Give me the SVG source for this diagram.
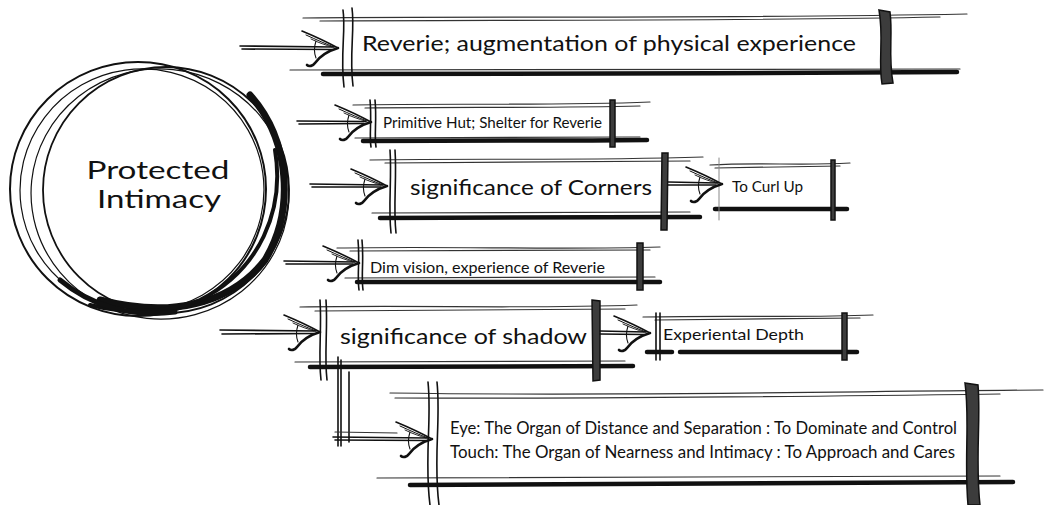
<svg xmlns="http://www.w3.org/2000/svg" width="1045" height="505" viewBox="0 0 1045 505">
<style>
.t1{fill:none;stroke:#333;stroke-width:1.2;stroke-linecap:round}
.t0{fill:none;stroke:#888;stroke-width:1;stroke-linecap:round}
.tk{fill:none;stroke:#111;stroke-width:4.5;stroke-linecap:round}
.vl{fill:none;stroke:#111;stroke-width:1.6;stroke-linecap:round}
.bar{fill:#3c3c3c;stroke:#111;stroke-width:1.5}
.ring{fill:none;stroke:#111;stroke-linecap:round}
.sh{fill:none;stroke:#111;stroke-width:1.6;stroke-linecap:round}
.lbl{font-family:Lato,"Noto Sans","DejaVu Sans",sans-serif;fill:#111}
</style>
<defs>
<g id="ah" fill="none" stroke="#111" stroke-linecap="round">
<path d="M-36,-17 C-24,-12 -11,-6 0,0" stroke-width="1.6"/>
<path d="M-32,-13 C-21,-8 -12,-4 -4,-1" stroke-width="1"/>
<path d="M-27,-9 C-19,-5 -12,-3 -6,-1" stroke-width="0.9"/>
<path d="M0,0 C-10,3 -18,8 -23,15 C-25,18 -29,19 -31,17" stroke-width="2.6"/>
<path d="M-22,-7 C-24,-1 -24,5 -22,10" stroke-width="1.1"/>
</g>
</defs>
<rect width="1045" height="505" fill="#fff"/>

<g id="n-core">
<ellipse class="ring" cx="138" cy="189" rx="128" ry="127" stroke-width="2"/>
<ellipse class="ring" cx="142" cy="190" rx="122" ry="121" stroke-width="1.2" transform="rotate(-8 142 190)"/>
<ellipse class="ring" cx="166" cy="190" rx="123" ry="123" stroke-width="1.8"/>
<ellipse class="ring" cx="160" cy="194" rx="129" ry="125" stroke-width="1.2" transform="rotate(6 160 194)"/>
<path class="ring" d="M250,95 C290,140 295,210 265,260 C230,305 170,318 100,300" stroke-width="7"/>
<path class="ring" d="M275,150 C285,210 260,270 200,300 C170,312 130,315 90,305" stroke-width="4"/>
<path class="ring" d="M60,280 C90,305 130,318 175,312" stroke-width="5"/>
<text class="lbl" x="158" y="179" font-size="25" text-anchor="middle" textLength="143" lengthAdjust="spacingAndGlyphs">Protected</text>
<text class="lbl" x="159" y="208" font-size="25" text-anchor="middle" textLength="124" lengthAdjust="spacingAndGlyphs">Intimacy</text>
</g>

<g id="n-reverie">
<path class="t1" d="M303,18 C450,16 700,19 967,14"/>
<path class="t1" d="M320,21 C500,20 750,21 940,17"/>
<path class="t1" d="M290,70 C450,69 700,70 960,69"/>
<path class="tk" d="M323,74 C500,73 750,74 957,72" stroke-width="5"/>
<path class="vl" d="M343,10 C346,30 340,55 344,87"/>
<path class="vl" d="M352,8 C355,30 349,55 353,86"/>
<path class="bar" d="M879,10 L890,12 C893,35 888,55 893,83 L882,84 C878,60 884,38 879,10 Z"/>
<text class="lbl" x="362" y="51" font-size="22" textLength="494" lengthAdjust="spacingAndGlyphs">Reverie; augmentation of physical experience</text>
</g>

<g id="n-hut">
<path class="t1" d="M353,105 C450,103 550,106 650,102"/>
<path class="t1" d="M365,108 C460,107 560,108 640,106"/>
<path class="t1" d="M355,138 L640,137"/>
<path class="tk" d="M363,141 C450,140 550,141 647,140" stroke-width="4"/>
<path class="vl" d="M370,100 C372,120 369,135 371,147"/>
<path class="vl" d="M375,100 C377,120 374,135 376,147"/>
<path class="bar" d="M610,100 L615,100 L615,147 L610,147 Z"/>
<text class="lbl" x="383" y="128" font-size="15" textLength="219" lengthAdjust="spacingAndGlyphs">Primitive Hut; Shelter for Reverie</text>
</g>

<g id="n-corners">
<path class="t1" d="M370,160 C480,158 580,161 703,157"/>
<path class="t1" d="M385,163 L690,161"/>
<path class="t1" d="M372,213 L690,212"/>
<path class="tk" d="M380,218 C500,217 600,218 700,217" stroke-width="5"/>
<path class="vl" d="M390,150 C392,180 388,205 391,233"/>
<path class="vl" d="M395,150 C397,180 393,205 396,233"/>
<path class="bar" d="M662,153 L668,153 L667,230 L661,230 Z"/>
<text class="lbl" x="410" y="195" font-size="21" textLength="242" lengthAdjust="spacingAndGlyphs">significance of Corners</text>
</g>

<g id="n-curl">
<path class="t1" d="M710,165 C760,162 800,166 850,163"/>
<path class="t1" d="M715,168 L840,166"/>
<path class="tk" d="M715,209 L847,209" stroke-width="4"/>
<path class="t0" d="M719,158 L719,220"/>
<path class="bar" d="M831,160 L835,160 L835,220 L831,220 Z"/>
<text class="lbl" x="732" y="192" font-size="15" textLength="71" lengthAdjust="spacingAndGlyphs">To Curl Up</text>
</g>

<g id="n-dim">
<path class="t1" d="M337,248 C450,246 560,250 660,247"/>
<path class="t1" d="M350,251 L650,250"/>
<path class="t1" d="M345,278 L655,277"/>
<path class="tk" d="M357,282 L660,282" stroke-width="4"/>
<path class="vl" d="M358,240 C360,260 357,275 359,290"/>
<path class="vl" d="M362,240 C364,260 361,275 363,290"/>
<path class="bar" d="M637,243 L643,243 L643,290 L637,290 Z"/>
<text class="lbl" x="370" y="273" font-size="15" textLength="235" lengthAdjust="spacingAndGlyphs">Dim vision, experience of Reverie</text>
</g>

<g id="n-shadow">
<path class="t1" d="M300,307 C420,305 530,309 637,305"/>
<path class="t1" d="M315,311 L625,309"/>
<path class="t1" d="M295,362 L625,361"/>
<path class="tk" d="M310,367 C420,366 530,367 633,366" stroke-width="5"/>
<path class="vl" d="M320,300 C322,330 318,355 321,380"/>
<path class="vl" d="M326,300 C328,330 324,355 327,380"/>
<path class="bar" d="M592,300 L600,301 L600,380 L593,381 Z"/>
<text class="lbl" x="340" y="344" font-size="21" textLength="247" lengthAdjust="spacingAndGlyphs">significance of shadow</text>
</g>

<g id="n-depth">
<path class="t1" d="M643,317 C740,315 800,318 873,315"/>
<path class="t1" d="M655,320 L860,318"/>
<path class="tk" d="M647,352 L672,352" stroke-width="4"/>
<path class="tk" d="M680,352 L857,352" stroke-width="4"/>
<path class="vl" d="M656,313 L656,360"/>
<path class="vl" d="M660,313 L660,360"/>
<path class="bar" d="M842,313 L847,313 L847,360 L842,360 Z"/>
<text class="lbl" x="663" y="340" font-size="16" textLength="141" lengthAdjust="spacingAndGlyphs">Experiental Depth</text>
</g>

<g id="n-senses">
<path class="t1" d="M390,393 C600,396 800,392 1043,390"/>
<path class="t1" d="M395,398 C600,399 850,396 1000,394"/>
<path class="t1" d="M377,478 C600,477 800,476 1000,476"/>
<path class="tk" d="M410,485 C600,484 800,483 1013,482" stroke-width="6"/>
<path class="vl" d="M428,382 C432,420 424,460 430,505" stroke-width="2"/>
<path class="vl" d="M437,382 C441,420 433,460 439,505" stroke-width="2"/>
<path class="bar" d="M965,383 L978,385 C981,420 975,460 980,505 L968,505 C964,460 970,420 965,383 Z"/>
<text class="lbl" x="450" y="434" font-size="16.5" textLength="507" lengthAdjust="spacingAndGlyphs">Eye: The Organ of Distance and Separation : To Dominate and Control</text>
<text class="lbl" x="450" y="458" font-size="16.5" textLength="505" lengthAdjust="spacingAndGlyphs">Touch: The Organ of Nearness and Intimacy : To Approach and Cares</text>
</g>

<g id="connectors">
<path class="sh" d="M240,46 L334,47 M242,49 L332,49.5"/>
<use href="#ah" transform="translate(338,48)"/>
<path class="sh" d="M297,121 L366,121.5 M299,124 L364,123.5"/>
<use href="#ah" transform="translate(371,122)"/>
<path class="sh" d="M310,184 L383,185 M312,187 L381,187"/>
<use href="#ah" transform="translate(387,186)"/>
<path class="sh" d="M668,182 L718,183 M668,185 L716,185"/>
<use href="#ah" transform="translate(722,184)"/>
<path class="sh" d="M284,261 L355,262 M286,264 L353,264"/>
<use href="#ah" transform="translate(359,263)"/>
<path class="sh" d="M220,330 L316,331 M222,334 L314,333.5"/>
<use href="#ah" transform="translate(320,332)"/>
<path class="sh" d="M600,331 L646,332 M600,334 L644,334.5"/>
<use href="#ah" transform="translate(650,333)"/>
<path class="sh" d="M338,357 L338,446 M341,360 L341,446" stroke-width="2"/>
<path class="sh" d="M349,372 L349,442"/>
<path class="sh" d="M333,437 L428,438 M335,440 L426,440.5"/>
<path class="t1" d="M335,432 L397,433"/>
<use href="#ah" transform="translate(432,439)"/>
</g>
</svg>
